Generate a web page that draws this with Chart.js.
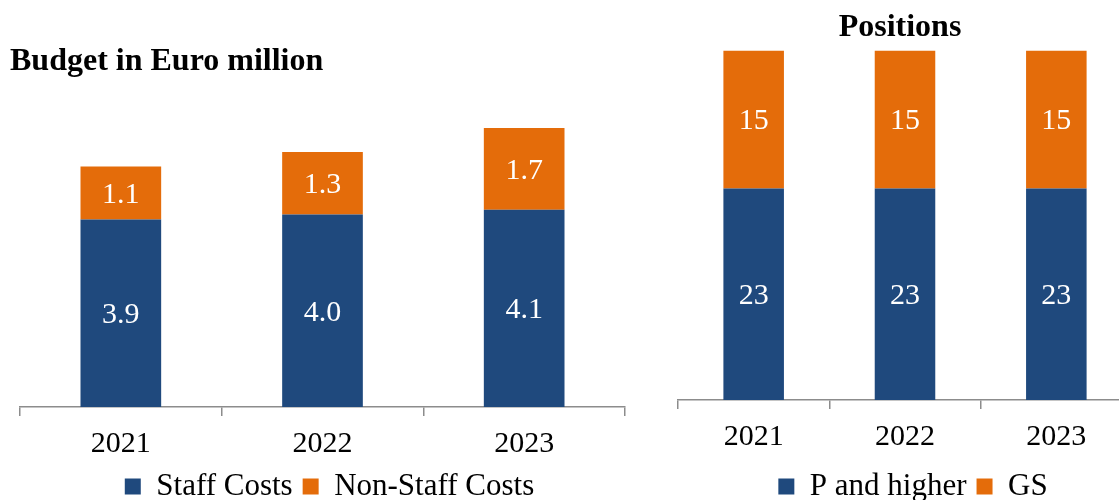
<!DOCTYPE html>
<html>
<head>
<meta charset="utf-8">
<title>Budget and Positions</title>
<script src="https://cdn.jsdelivr.net/npm/chart.js@4.4.1/dist/chart.umd.min.js"></script>
<style>
    html, body { margin: 0; padding: 0; background: #ffffff; overflow: hidden; width: 1119px; height: 500px; }
    #budget-chart { position: absolute; left: 0; top: 0; }
    #positions-chart { position: absolute; left: 660px; top: 0; }
</style>
</head>
<body>
<canvas id="budget-chart" width="640" height="512"></canvas>
<canvas id="positions-chart" width="480" height="512"></canvas>
<script>
// --- DATA ---
const years = ['2021', '2022', '2023'];
const staffCosts = [3.9, 4.0, 4.1];
const nonStaffCosts = [1.1, 1.3, 1.7];
const pAndHigher = [23, 23, 23];
const gsPositions = [15, 15, 15];

const BLUE = '#1F497D';
const ORANGE = '#E46C0A';
const AXIS_GREY = '#8c8c8c';

Chart.defaults.font.family = "'Liberation Serif', 'Times New Roman', serif";
Chart.defaults.color = '#000000';

// white value labels in the middle of each bar segment
const barValueLabels = {
    id: 'barValueLabels',
    afterDatasetsDraw(chart, args, opts) {
        const ctx = chart.ctx;
        ctx.save();
        ctx.fillStyle = '#ffffff';
        ctx.font = "30px 'Liberation Serif', serif";
        ctx.textAlign = 'center';
        ctx.textBaseline = 'middle';
        chart.data.datasets.forEach((ds, i) => {
            chart.getDatasetMeta(i).data.forEach((bar, j) => {
                const v = ds.data[j];
                const txt = opts.decimals ? v.toFixed(opts.decimals) : String(v);
                ctx.fillText(txt, bar.x, (bar.y + bar.base) / 2 + 2);
            });
        });
        ctx.restore();
    }
};

// nudge the legend sideways (the source legend sits a bit right of centre)
const legendShift = {
    id: 'legendShift',
    afterLayout(chart, args, opts) {
        if (chart.legend && opts.dx) {
            chart.legend.left += opts.dx;
            chart.legend.right += opts.dx;
        }
    }
};

function makeOptions(titleText, titleAlign, titlePad, yMax, decimals, padding, xHeight, legendDx) {
    return {
        responsive: false,
        animation: false,
        layout: { padding: padding },
        plugins: {
            title: {
                display: true,
                text: titleText,
                align: titleAlign,
                color: '#000000',
                font: { size: 32, weight: 'bold', lineHeight: 1.2 },
                padding: titlePad
            },
            legend: {
                position: 'bottom',
                labels: {
                    boxWidth: 16,
                    boxHeight: 16,
                    padding: 10,
                    color: '#000000',
                    font: { size: 31 }
                }
            },
            tooltip: { enabled: false },
            barValueLabels: { decimals: decimals },
            legendShift: { dx: legendDx }
        },
        scales: {
            x: {
                stacked: true,
                grid: {
                    display: true,
                    drawOnChartArea: false,
                    drawTicks: true,
                    tickLength: 9,
                    color: AXIS_GREY,
                    lineWidth: 1.5
                },
                border: { display: true, color: AXIS_GREY, width: 1.5 },
                ticks: { padding: 10, color: '#000000', font: { size: 30, lineHeight: 1.2 } },
                afterFit(scale) { scale.height = xHeight; }
            },
            y: {
                stacked: true,
                min: 0,
                max: yMax,
                grid: { display: false },
                border: { display: false },
                ticks: { display: false },
                afterFit(scale) { scale.width = 10; }
            }
        }
    };
}

new Chart(document.getElementById('budget-chart'), {
    type: 'bar',
    data: {
        labels: years,
        datasets: [
            { label: 'Staff Costs', data: staffCosts, backgroundColor: BLUE, categoryPercentage: 1, barPercentage: 0.4 },
            { label: 'Non-Staff Costs', data: nonStaffCosts, backgroundColor: ORANGE, categoryPercentage: 1, barPercentage: 0.4 }
        ]
    },
    options: makeOptions('Budget in Euro million', 'start', { top: 43, bottom: 37 }, 6, 1,
        { left: 10, right: 15, top: 0, bottom: 0 }, 54, 12),
    plugins: [barValueLabels, legendShift]
});

new Chart(document.getElementById('positions-chart'), {
    type: 'bar',
    data: {
        labels: years,
        datasets: [
            { label: 'P and higher', data: pAndHigher, backgroundColor: BLUE, categoryPercentage: 1, barPercentage: 0.4 },
            { label: 'GS', data: gsPositions, backgroundColor: ORANGE, categoryPercentage: 1, barPercentage: 0.4 }
        ]
    },
    options: makeOptions('Positions', 'center', { top: 9, bottom: 3 }, 38, 0,
        { left: 8, right: 8, top: 0, bottom: 0 }, 61, 13),
    plugins: [barValueLabels, legendShift]
});
</script>
</body>
</html>
